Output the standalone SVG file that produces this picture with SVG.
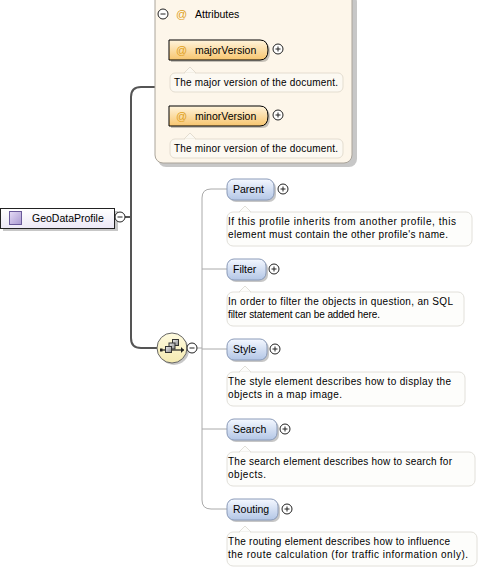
<svg xmlns="http://www.w3.org/2000/svg" width="484" height="570" viewBox="0 0 484 570">
<defs>
<linearGradient id="gOrange" x1="0" y1="0" x2="0" y2="1"><stop offset="0" stop-color="#fff4dc"/><stop offset="1" stop-color="#f7c56e"/></linearGradient>
<linearGradient id="gBlue" x1="0" y1="0" x2="0" y2="1"><stop offset="0" stop-color="#f4f8ff"/><stop offset="1" stop-color="#b3c6e6"/></linearGradient>
<linearGradient id="gRoot" x1="0" y1="0" x2="0" y2="1"><stop offset="0" stop-color="#ffffff"/><stop offset="1" stop-color="#ece8f6"/></linearGradient>
<linearGradient id="gIcon" x1="0" y1="0" x2="1" y2="1"><stop offset="0" stop-color="#e6dcf6"/><stop offset="1" stop-color="#a898d0"/></linearGradient>
<linearGradient id="gComp" x1="0" y1="0" x2="0" y2="1"><stop offset="0" stop-color="#fffbe0"/><stop offset="1" stop-color="#f4eab0"/></linearGradient>
<linearGradient id="gSq" x1="0" y1="0" x2="1" y2="1"><stop offset="0" stop-color="#eeeeee"/><stop offset="1" stop-color="#888888"/></linearGradient>
<linearGradient id="gDiv" x1="0" y1="0" x2="1" y2="0"><stop offset="0" stop-color="#e6ddd0"/><stop offset="1" stop-color="#e6ddd0" stop-opacity="0"/></linearGradient>
<g id="plus"><circle r="5" fill="#fff" stroke="#222" stroke-width="1"/><path d="M-2.5,0H2.5M0,-2.5V2.5" stroke="#222" stroke-width="1"/></g>
<g id="minus"><circle r="5" fill="#fff" stroke="#222" stroke-width="1"/><path d="M-2.5,0H2.5" stroke="#222" stroke-width="1"/></g>
</defs>
<style>
.lbl{font-family:"Liberation Sans",Arial,sans-serif;font-size:10.5px;fill:#000}
.desc{font-family:"Liberation Sans",Arial,sans-serif;font-size:10px;fill:#000}
.at{font-family:"Liberation Sans",Arial,sans-serif;font-size:11px;fill:#e0a020}
.shadow{fill:#000;opacity:0.22}
.callout{fill:#fdfdfb;stroke:#e2e0da;stroke-width:1}
.callout2{fill:#fcf9f2;stroke:#e4ddd0;stroke-width:1}
.elem{fill:url(#gBlue);stroke:#8a9ab8;stroke-width:1}
.attr{fill:url(#gOrange);stroke:#000;stroke-width:1}
.main{fill:none;stroke:#555;stroke-width:2}
.thin{fill:none;stroke:#aaa;stroke-width:1}
</style>

<g id="connectors">
<path class="main" d="M155,87H141Q131,87 131,97V338Q131,348 141,348H157"/>
<path class="main" d="M125,217H131"/>
<path class="thin" d="M227,189H211Q202,189 202,198V500Q202,509 211,509H227"/>
<path class="thin" d="M197,348H202M202,269H227M202,349H227M202,429H227"/>
</g>

<g id="attributes">
<rect x="158" y="-6" width="199" height="173" rx="8" class="shadow"/>
<rect x="155" y="-8" width="197" height="171" rx="8" fill="#fdf6ea" stroke="#aaa49a" stroke-width="1"/>
<path d="M157,27H320" stroke="url(#gDiv)" stroke-width="2"/>
<use href="#minus" x="163" y="14"/>
<text class="at" x="176" y="18">@</text>
<text class="lbl" x="195" y="18">Attributes</text>
</g>

<g id="majorVersion">
<path d="M171,42H262Q270,42 270,52Q270,62 262,62H171Z" class="shadow"/>
<path d="M169,40H260Q268,40 268,50Q268,60 260,60H169Z" class="attr"/>
<text class="at" x="176" y="54">@</text>
<text class="lbl" x="195" y="54">majorVersion</text>
<use href="#plus" x="278" y="49"/>
<path d="M184,73L190,67L196,73" class="callout2"/>
<rect x="170" y="73" width="173" height="19" rx="5" class="callout2"/>
<path d="M185,73.5H195" stroke="#fcf9f2" stroke-width="1.5"/>
<text class="desc" x="174" y="86" textLength="164" lengthAdjust="spacing">The major version of the document.</text>
</g>

<g id="minorVersion">
<path d="M171,108H262Q270,108 270,118Q270,128 262,128H171Z" class="shadow"/>
<path d="M169,106H260Q268,106 268,116Q268,126 260,126H169Z" class="attr"/>
<text class="at" x="176" y="120">@</text>
<text class="lbl" x="195" y="120">minorVersion</text>
<use href="#plus" x="278" y="115"/>
<path d="M184,139L190,133L196,139" class="callout2"/>
<rect x="170" y="139" width="173" height="19" rx="5" class="callout2"/>
<path d="M185,139.5H195" stroke="#fcf9f2" stroke-width="1.5"/>
<text class="desc" x="174" y="152" textLength="164" lengthAdjust="spacing">The minor version of the document.</text>
</g>

<g id="GeoDataProfile">
<rect x="3" y="211" width="115" height="20" class="shadow"/>
<rect x="0.5" y="208.5" width="114" height="20" fill="url(#gRoot)" stroke="#222" stroke-width="1"/>
<rect x="9.5" y="211.5" width="12" height="13" fill="url(#gIcon)" stroke="#6a5a9a" stroke-width="1"/>
<text class="lbl" x="32" y="222">GeoDataProfile</text>
<use href="#minus" x="120" y="217"/>
</g>

<g id="sequence">
<circle cx="174" cy="350" r="15" class="shadow"/>
<circle cx="172" cy="348" r="15" fill="url(#gComp)" stroke="#666" stroke-width="1"/>
<path d="M161,350H184" stroke="#222" stroke-width="1.2"/>
<rect x="160" y="348.5" width="2.5" height="3" fill="#222"/>
<path d="M181,347L184,350L181,353Z" fill="#222"/>
<rect x="172.5" y="339.5" width="6" height="6" fill="url(#gSq)" stroke="#333" stroke-width="1"/>
<rect x="169" y="343" width="6" height="6" fill="url(#gSq)" stroke="#333" stroke-width="1"/>
<rect x="165.5" y="346.5" width="6" height="6" fill="url(#gSq)" stroke="#333" stroke-width="1"/>
<use href="#minus" x="192" y="348"/>
</g>

<g id="Parent">
<rect x="229" y="181" width="47" height="21" rx="7" class="shadow"/>
<rect x="227" y="179" width="47" height="21" rx="7" class="elem"/>
<text class="lbl" x="233" y="193">Parent</text>
<use href="#plus" x="283" y="189"/>
<path d="M239,212L245,206L251,212" class="callout"/>
<rect x="227" y="212" width="245" height="34" rx="6" class="callout"/>
<path d="M240,212.5H250" stroke="#fdfdfb" stroke-width="1.5"/>
<text class="desc" x="228" y="225" textLength="228" lengthAdjust="spacing">If this profile inherits from another profile, this</text>
<text class="desc" x="228" y="238" textLength="220" lengthAdjust="spacing">element must contain the other profile's name.</text>
</g>

<g id="Filter">
<rect x="229" y="261" width="39" height="21" rx="7" class="shadow"/>
<rect x="227" y="259" width="39" height="21" rx="7" class="elem"/>
<text class="lbl" x="233" y="273">Filter</text>
<use href="#plus" x="274" y="269"/>
<path d="M239,292L245,286L251,292" class="callout"/>
<rect x="227" y="292" width="237" height="34" rx="6" class="callout"/>
<path d="M240,292.5H250" stroke="#fdfdfb" stroke-width="1.5"/>
<text class="desc" x="228" y="305" textLength="225" lengthAdjust="spacing">In order to filter the objects in question, an SQL</text>
<text class="desc" x="228" y="318" textLength="152" lengthAdjust="spacing">filter statement can be added here.</text>
</g>

<g id="Style">
<rect x="229" y="341" width="40" height="21" rx="7" class="shadow"/>
<rect x="227" y="339" width="40" height="21" rx="7" class="elem"/>
<text class="lbl" x="233" y="353">Style</text>
<use href="#plus" x="275" y="349"/>
<path d="M239,372L245,366L251,372" class="callout"/>
<rect x="227" y="372" width="238" height="34" rx="6" class="callout"/>
<path d="M240,372.5H250" stroke="#fdfdfb" stroke-width="1.5"/>
<text class="desc" x="228" y="385" textLength="223" lengthAdjust="spacing">The style element describes how to display the</text>
<text class="desc" x="228" y="398" textLength="114" lengthAdjust="spacing">objects in a map image.</text>
</g>

<g id="Search">
<rect x="229" y="421" width="50" height="21" rx="7" class="shadow"/>
<rect x="227" y="419" width="50" height="21" rx="7" class="elem"/>
<text class="lbl" x="233" y="433">Search</text>
<use href="#plus" x="285" y="429"/>
<path d="M239,452L245,446L251,452" class="callout"/>
<rect x="227" y="452" width="248" height="34" rx="6" class="callout"/>
<path d="M240,452.5H250" stroke="#fdfdfb" stroke-width="1.5"/>
<text class="desc" x="228" y="465" textLength="224" lengthAdjust="spacing">The search element describes how to search for</text>
<text class="desc" x="228" y="478" textLength="38" lengthAdjust="spacing">objects.</text>
</g>

<g id="Routing">
<rect x="229" y="501" width="51" height="21" rx="7" class="shadow"/>
<rect x="227" y="499" width="51" height="21" rx="7" class="elem"/>
<text class="lbl" x="233" y="513">Routing</text>
<use href="#plus" x="287" y="509"/>
<path d="M239,532L245,526L251,532" class="callout"/>
<rect x="227" y="532" width="250" height="34" rx="6" class="callout"/>
<path d="M240,532.5H250" stroke="#fdfdfb" stroke-width="1.5"/>
<text class="desc" x="228" y="545" textLength="222" lengthAdjust="spacing">The routing element describes how to influence</text>
<text class="desc" x="228" y="558" textLength="240" lengthAdjust="spacing">the route calculation (for traffic information only).</text>
</g>
</svg>
